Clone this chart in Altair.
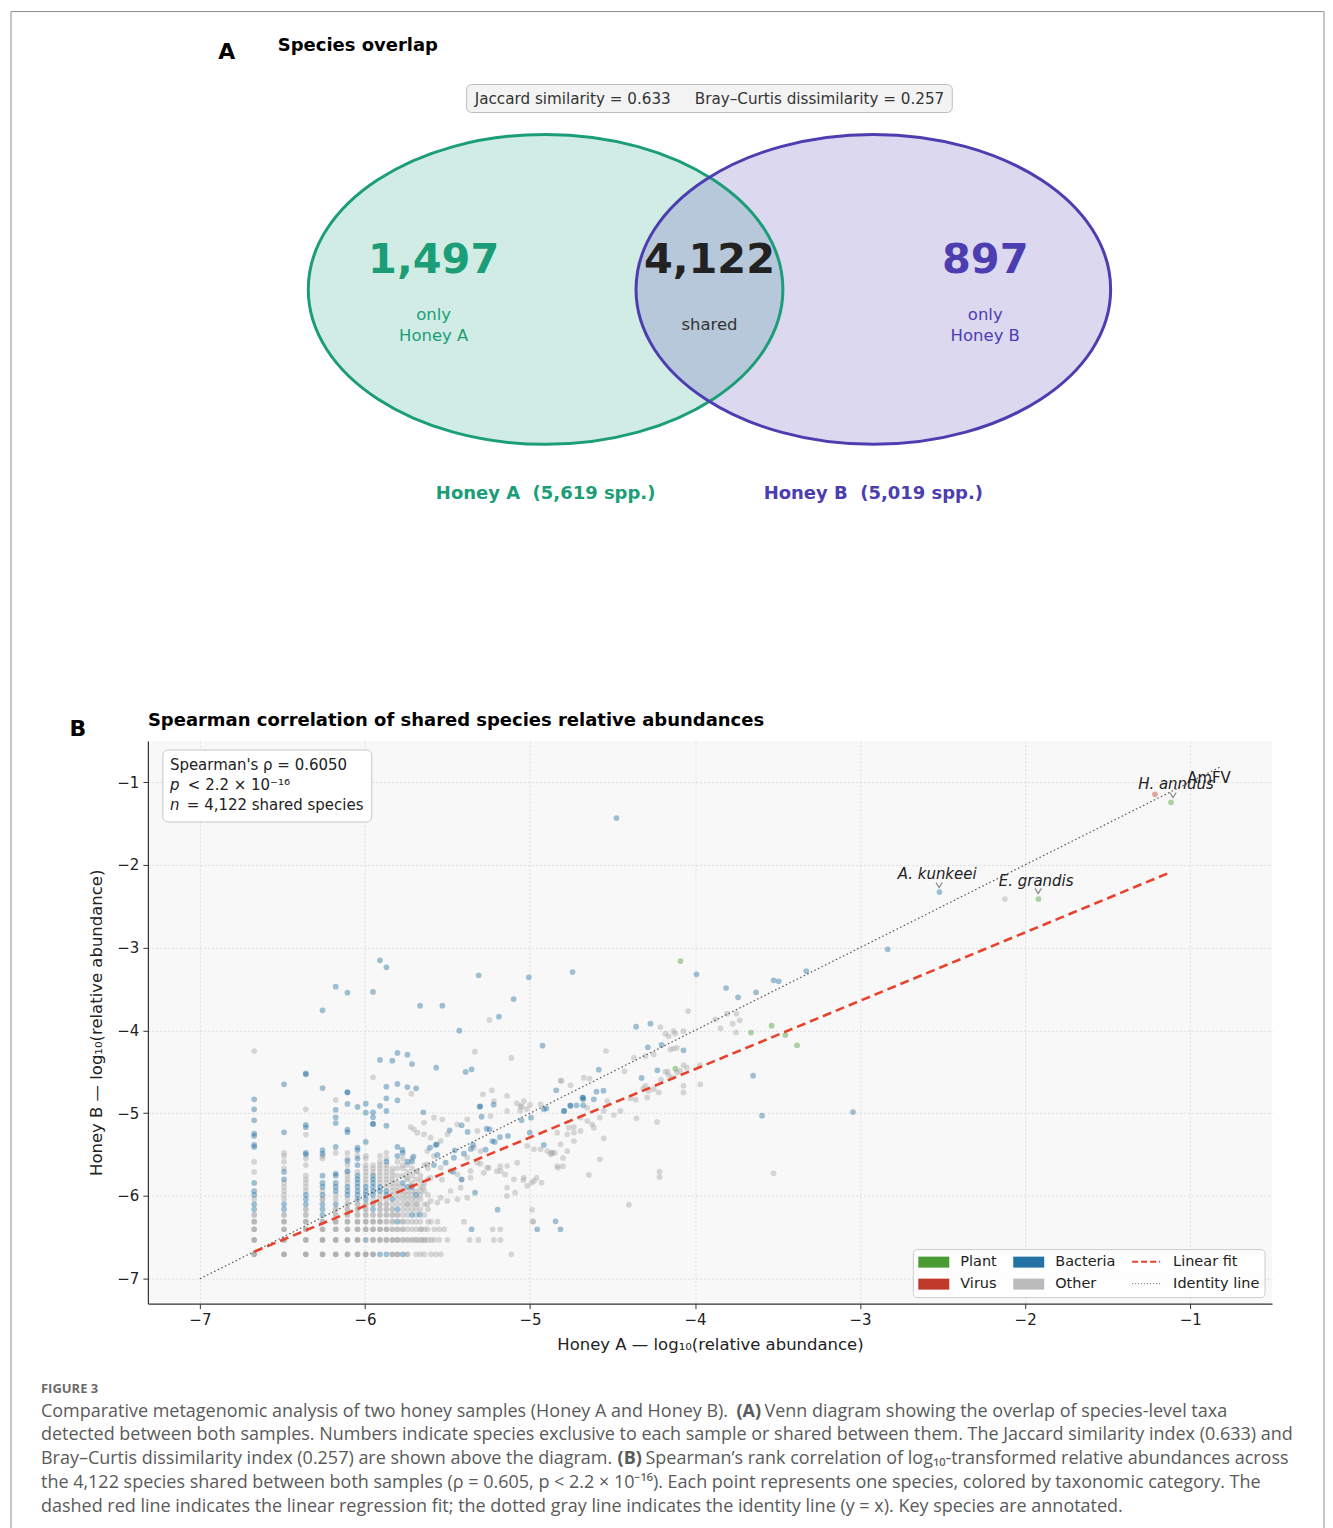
import altair as alt
import pandas as pd

FONT = "DejaVu Sans"
CAP_FONT = "Open Sans"
GREEN = "#1b9e77"
PURPLE = "#4c3db0"
DARK = "#222222"

# ---------------- Panel A values ----------------
SETS = ["Honey A", "Honey B"]
SET_TOTALS = ["5,619", "5,019"]
ONLY_COUNTS = ["1,497", "897"]
SHARED_COUNT = "4,122"
JACCARD = "0.633"
BRAY_CURTIS = "0.257"

# ---------------- Panel B values ----------------
RHO = "0.6050"
N_SHARED = "4,122"
CATEGORIES = ["Other", "Bacteria", "Plant", "Virus"]
POINT_COLORS = ["#a8a8a8", "#2471a3", "#4a9b34", "#c0392b"]
LEGEND_COLORS = ["#4a9b34", "#c0392b", "#2471a3", "#bbbbbb"]
LEGEND_LABELS = ["Plant", "Virus", "Bacteria", "Other"]

# discrete low-abundance lattice (log10 of small read counts)
LAT_X = [-6.671, -6.490, -6.358, -6.257, -6.177, -6.106, -6.045, -5.995, -5.951, -5.909,
         -5.870, -5.834, -5.803, -5.771, -5.743, -5.715, -5.690, -5.664, -5.640, -5.618]
LAT_Y = [-6.704, -6.531, -6.402, -6.310, -6.229, -6.161, -6.100, -6.040, -5.988, -5.940,
         -5.891, -5.843, -5.798, -5.755, -5.710, -5.666, -5.626, -5.586, -5.548, -5.517,
         -5.480, -5.445, -5.408]
# per lattice column: [row index, number of overlapping species]
OTHER_LAT = [
    [[0, 4], [1, 4], [2, 3], [3, 3], [4, 2], [7, 1], [14, 1], [17, 1]],
    [[0, 4], [1, 4], [2, 3], [3, 3], [4, 2], [7, 1], [8, 1], [9, 1], [10, 1], [11, 1], [15, 1], [17, 1], [19, 1], [20, 1]],
    [[0, 4], [1, 4], [2, 3], [3, 3], [4, 2], [5, 2], [9, 1], [10, 1], [11, 1], [12, 1], [13, 1], [16, 1], [18, 1]],
    [[0, 4], [1, 4], [2, 3], [3, 3], [7, 2], [9, 1], [18, 1], [19, 1]],
    [[0, 4], [1, 4], [2, 3], [3, 3], [4, 2], [5, 2], [7, 1], [8, 1], [20, 1]],
    [[0, 4], [1, 4], [2, 3], [3, 3], [4, 2], [5, 2], [6, 2], [7, 1], [11, 1], [12, 1], [13, 1], [14, 1], [16, 1], [18, 1], [20, 1]],
    [[0, 4], [1, 4], [2, 3], [3, 3], [4, 2], [5, 2], [6, 2], [14, 1], [19, 1]],
    [[0, 4], [2, 3], [3, 3], [4, 2], [5, 2], [6, 2], [11, 1], [12, 1], [13, 1], [14, 1], [15, 1], [16, 1], [18, 1], [19, 1]],
    [[0, 4], [1, 3], [2, 3], [3, 3], [4, 2], [6, 2], [7, 1], [14, 1], [15, 1], [16, 1]],
    [[1, 3], [2, 3], [3, 3], [4, 2], [5, 2], [6, 2], [7, 1], [8, 1], [11, 1], [12, 1], [13, 1], [14, 1], [15, 1], [16, 1], [17, 1], [19, 1]],
    [[1, 3], [2, 3], [3, 2], [4, 2], [5, 2], [6, 2], [7, 1], [10, 1], [11, 1], [12, 1], [13, 1], [14, 1], [15, 1], [16, 1], [18, 1], [20, 1]],
    [[0, 3], [1, 3], [2, 2], [3, 2], [4, 2], [5, 2], [6, 1], [8, 1], [9, 1], [10, 1], [11, 1], [12, 1], [13, 1], [14, 1], [15, 1]],
    [[0, 3], [1, 3], [2, 2], [4, 2], [6, 1], [7, 1], [8, 1], [9, 1], [10, 1], [11, 1], [13, 1], [15, 1], [17, 1]],
    [[1, 2], [2, 2], [3, 2], [4, 1], [5, 1], [6, 1], [7, 1], [8, 1], [9, 1], [10, 1], [13, 1], [15, 1], [16, 1], [18, 1]],
    [[0, 2], [1, 2], [2, 1], [3, 1], [4, 1], [5, 1], [6, 1], [7, 1], [8, 1], [9, 1], [12, 1], [14, 1], [16, 1]],
    [[1, 2], [2, 1], [3, 1], [5, 1], [6, 1], [7, 1], [8, 1], [9, 1], [11, 1], [13, 1], [15, 1], [18, 1]],
    [[0, 1], [1, 1], [2, 1], [3, 1], [4, 1], [5, 1], [6, 1], [7, 1], [9, 1], [12, 1], [14, 1]],
    [[0, 1], [1, 1], [2, 1], [3, 1], [5, 1], [7, 1], [8, 1], [10, 1], [13, 1]],
    [[0, 1], [1, 1], [2, 1], [4, 1], [6, 1], [9, 1], [11, 1], [16, 1]],
    [[1, 1], [3, 1], [5, 1], [8, 1], [12, 1], [15, 1]],
]
BACT_LAT = [
    [5, 6, 8, 9, 11, 22], [5, 6, 12, 14], [6, 7, 8, 20], [4, 5, 6, 8, 10, 11, 13, 21],
    [6, 9, 10, 11, 13], [8, 9, 10], [7, 8, 9, 10, 11, 12, 13, 16, 18, 21], [1, 7, 8, 9, 10],
    [5, 8, 9, 10, 11, 12, 13], [0, 9, 10], [0, 8, 9, 17], [7], [3, 5, 19, 22], [0, 11, 20],
    [10, 17], [4, 10, 17], [8], [], [], [],
]

OTHER_PTS = [
    (-6.671, -4.249), (-6.358, -4.953), (-6.358, -5.259), (-6.177, -4.841), (-5.951, -4.566),
    (-5.246, -3.874), (-5.334, -4.257), (-5.113, -4.333), (-5.719, -4.764), (-5.285, -4.772),
    (-5.231, -4.723), (-4.815, -4.607), (-4.754, -4.663), (-4.674, -4.571), (-4.540, -4.249),
    (-4.427, -4.495), (-4.809, -4.611), (-4.639, -4.583), (-4.206, -4.595), (-4.166, -4.499),
    (-4.281, -4.732), (-4.314, -4.700), (-4.359, -4.837), (-4.391, -4.820), (-4.452, -4.973),
    (-4.492, -5.022), (-4.300, -4.310), (-4.250, -4.290), (-4.370, -4.330), (-4.042, -3.766),
    (-3.877, -3.866), (-3.806, -3.798), (-3.749, -3.798), (-3.729, -3.878), (-3.846, -3.975),
    (-3.772, -3.919), (-3.751, -4.027), (-4.210, -3.960), (-4.180, -4.040), (-4.160, -4.070),
    (-4.130, -4.010), (-4.120, -4.040), (-4.070, -4.010), (-4.149, -4.230), (-4.130, -4.220),
    (-4.110, -4.210), (-4.180, -4.500), (-4.160, -4.540), (-4.140, -4.570), (-4.110, -4.510),
    (-4.090, -4.490), (-4.070, -4.420), (-4.050, -4.450), (-3.970, -4.420), (-3.968, -4.651),
    (-4.070, -4.670), (-4.070, -4.750), (-4.300, -4.670), (-4.250, -4.710), (-4.220, -4.750),
    (-4.290, -4.810), (-4.230, -5.106), (-4.355, -5.062), (-4.553, -5.303), (-4.577, -5.557),
    (-4.643, -5.746), (-4.215, -5.707), (-4.215, -5.771), (-3.524, -5.727), (-4.401, -6.105),
    (-4.987, -6.165), (-4.984, -6.306), (-5.140, -6.000), (-5.090, -5.960), (-5.040, -5.810),
    (-4.960, -5.780), (-4.990, -5.840), (-4.930, -5.840), (-4.850, -5.480), (-4.870, -5.480),
    (-4.800, -5.540), (-4.800, -5.640), (-4.830, -5.660), (-5.300, -5.610), (-5.250, -5.660),
    (-5.200, -5.700), (-5.150, -5.740), (-5.280, -5.720), (-5.180, -5.640),
    (-5.690, -6.531), (-5.660, -6.531), (-5.640, -6.531), (-5.600, -6.531), (-5.580, -6.531),
    (-5.550, -6.531), (-5.500, -6.531), (-5.366, -6.531), (-5.313, -6.531), (-5.219, -6.531),
    (-5.178, -6.531), (-5.660, -6.402), (-5.620, -6.402), (-5.580, -6.402), (-5.550, -6.402),
    (-5.520, -6.402), (-5.226, -6.402), (-5.180, -6.402), (-5.600, -6.704), (-5.570, -6.704),
    (-5.540, -6.704), (-5.113, -6.704), (-5.600, -6.310), (-5.560, -6.310), (-5.400, -6.310),
    (-4.980, -6.310),
    (-4.532, -4.853), (-4.553, -4.973), (-4.577, -5.054), (-4.623, -5.134), (-4.613, -5.175),
    (-4.653, -5.094), (-4.694, -5.215), (-4.734, -5.235), (-4.774, -5.255), (-4.764, -5.175),
    (-4.835, -5.235), (-4.815, -5.376), (-4.865, -5.477), (-4.895, -5.457), (-5.080, -4.880),
    (-5.050, -4.920), (-5.020, -4.950), (-5.000, -4.900), (-5.060, -4.970),
    (-5.723, -5.168), (-5.682, -5.235), (-5.642, -5.255), (-5.602, -5.296), (-5.541, -5.336),
    (-5.501, -5.255), (-5.622, -5.457), (-5.582, -5.517), (-5.541, -5.658), (-5.481, -5.698),
    (-5.440, -5.738), (-5.380, -5.537), (-5.360, -5.698), (-5.340, -5.417), (-5.299, -5.457),
    (-5.319, -5.598), (-5.259, -5.658), (-5.178, -5.698), (-5.138, -5.638), (-5.097, -5.799),
    (-5.017, -5.879), (-4.976, -5.819), (-5.077, -5.598), (-5.017, -5.396), (-4.976, -5.437),
    (-4.936, -5.437), (-4.875, -5.497), (-4.835, -5.638), (-4.774, -5.457), (-4.734, -5.336),
    (-5.662, -5.940), (-5.602, -6.060), (-5.541, -6.020), (-5.481, -5.940), (-5.420, -5.900),
    (-5.360, -5.779), (-5.138, -5.900), (-5.037, -5.779), (-4.734, -5.168), (-4.694, -5.054),
    (-4.653, -4.933), (-5.440, -5.134), (-5.380, -5.074), (-5.319, -5.215), (-5.239, -5.034),
    (-5.138, -4.973), (-5.057, -4.913), (-5.037, -4.853), (-4.936, -4.893), (-5.582, -5.054),
    (-5.531, -5.074), (-5.642, -5.114), (-5.703, -5.195), (-5.218, -4.853), (-5.138, -4.792),
    (-5.622, -5.618), (-5.682, -5.698), (-5.602, -5.779), (-5.662, -5.819), (-5.561, -6.080),
    (-5.501, -6.060), (-5.440, -6.040), (-5.380, -6.020), (-5.646, -5.891), (-5.414, -5.803),
    (-5.533, -5.803), (-5.743, -5.779), (-5.723, -5.879), (-5.743, -6.100), (-5.682, -6.100),
    (-5.622, -6.100), (-2.123, -2.413),
]

BACT_PTS = [
    (-6.671, -5.384), (-6.671, -5.275), (-6.671, -5.247), (-6.671, -5.086), (-6.671, -4.953),
    (-6.671, -4.832), (-6.490, -5.231), (-6.490, -4.651), (-6.358, -5.140), (-6.358, -5.170),
    (-6.358, -4.520), (-6.358, -4.530), (-6.358, -5.497), (-6.257, -5.489), (-6.257, -4.696),
    (-6.257, -3.757), (-6.177, -4.960), (-6.177, -5.050), (-6.177, -5.120), (-6.177, -5.408),
    (-6.177, -5.730), (-6.177, -3.472), (-6.106, -4.748), (-6.106, -4.748), (-6.106, -4.889),
    (-6.106, -5.200), (-6.106, -5.230), (-6.106, -5.577), (-6.106, -5.700), (-6.106, -3.545),
    (-6.045, -4.925), (-6.045, -5.416), (-5.995, -4.885), (-5.995, -4.994), (-5.995, -5.348),
    (-5.951, -4.990), (-5.951, -5.050), (-5.951, -5.130), (-5.951, -5.130), (-5.951, -3.536),
    (-5.909, -4.913), (-5.909, -4.357), (-5.909, -3.153), (-5.870, -4.680), (-5.870, -4.820),
    (-5.870, -4.973), (-5.870, -5.151), (-5.870, -3.238), (-5.834, -4.366), (-5.803, -4.273),
    (-5.803, -4.647), (-5.803, -4.844), (-5.743, -4.294), (-5.743, -4.684), (-5.715, -4.406),
    (-5.690, -4.700),
    (-5.666, -3.702), (-5.531, -3.702), (-5.311, -3.335), (-5.007, -3.359), (-4.742, -3.295),
    (-5.099, -3.621), (-5.188, -3.834), (-5.428, -4.003), (-4.924, -4.184), (-5.568, -4.450),
    (-5.390, -4.502), (-5.354, -4.470), (-5.646, -4.989), (-5.301, -4.917), (-5.220, -4.897),
    (-4.841, -4.723), (-4.756, -4.905), (-4.718, -4.905), (-4.678, -4.905), (-4.678, -4.812),
    (-4.795, -4.973), (-4.357, -3.955), (-4.270, -3.919), (-4.286, -4.204), (-4.203, -4.176),
    (-4.070, -4.241), (-3.648, -4.547), (-3.594, -5.030), (-4.583, -4.474), (-4.324, -4.575),
    (-4.228, -4.482), (-4.597, -4.741), (-4.555, -4.728), (-4.613, -4.832), (-4.682, -4.813),
    (-4.677, -4.832), (-4.901, -4.941), (-4.916, -5.384), (-4.916, -4.953), (-5.487, -5.207),
    (-5.414, -5.146), (-5.571, -5.384), (-5.561, -5.505), (-5.511, -5.598), (-5.461, -5.537),
    (-5.414, -5.799), (-5.333, -5.960), (-5.196, -6.165), (-4.956, -6.402), (-4.815, -6.402),
    (-4.845, -6.306), (-5.354, -6.402), (-5.668, -6.226), (-3.991, -3.323), (-3.812, -3.488),
    (-3.739, -3.600), (-3.630, -3.540), (-3.524, -3.395), (-3.493, -3.407), (-3.326, -3.283),
    (-2.833, -3.021), (-3.043, -4.986), (-4.476, -1.435), (-2.519, -2.329), (-5.706, -5.525),
    (-5.606, -5.417), (-5.773, -5.444), (-5.378, -5.227), (-5.345, -5.384), (-5.456, -5.449),
    (-5.305, -4.921), (-5.293, -5.042), (-5.263, -5.187), (-5.245, -5.195), (-5.182, -5.290),
    (-5.134, -5.275), (-5.228, -5.336), (-5.214, -5.348), (-5.358, -5.432), (-5.269, -5.441),
    (-5.400, -5.489), (-5.565, -5.376), (-5.582, -5.626), (-5.467, -5.707), (-4.994, -5.054),
    (-5.051, -5.086), (-5.001, -5.235), (-4.792, -4.973), (-4.754, -4.913),
]

PLANT_PTS = [
    (-4.088, -3.162), (-3.536, -3.943), (-3.661, -4.027), (-3.453, -4.056), (-3.382, -4.180),
    (-4.119, -4.462), (-1.116, -1.245), (-1.919, -2.413),
]
VIRUS_PTS = [(-1.213, -1.148)]

FIT_X = [-6.671, -1.116]
FIT_Y = [-6.673, -2.087]
IDENTITY = [-7.0, -0.82]

ANNOT_LABELS = ["A. kunkeei", "E. grandis", "H. annuus"]
ANNOT_X = [-2.533, -1.933, -1.086]
ANNOT_Y = [-2.111, -2.196, -1.024]
VIRUS_LABEL = ["AmFV"]
VIRUS_LABEL_X = [-0.886]
VIRUS_LABEL_Y = [-0.952]
ARROW_X = [-2.521, -1.921, -1.104]
ARROW_Y = [-2.244, -2.316, -1.157]

CAPTION = [
    "detected between both samples. Numbers indicate species exclusive to each sample or shared between them. The Jaccard similarity index (0.633) and",
    "the 4,122 species shared between both samples (\u03c1 = 0.605, p < 2.2 \u00d7 10\u207b\u00b9\u2076). Each point represents one species, colored by taxonomic category. The",
    "dashed red line indicates the linear regression fit; the dotted gray line indicates the identity line (y = x). Key species are annotated.",
]

# ---------------- build tables ----------------
rows = []
for ci, cells in enumerate(OTHER_LAT):
    for ri, n in cells:
        rows.append(("Other", LAT_X[ci], LAT_Y[ri], n))
for x, y in OTHER_PTS:
    rows.append(("Other", x, y, 1))
for ci, rs in enumerate(BACT_LAT):
    for ri in rs:
        rows.append(("Bacteria", LAT_X[ci], LAT_Y[ri], 1))
for x, y in BACT_PTS:
    rows.append(("Bacteria", x, y, 1))
for x, y in PLANT_PTS:
    rows.append(("Plant", x, y, 1))
for x, y in VIRUS_PTS:
    rows.append(("Virus", x, y, 1))
points = pd.DataFrame(rows, columns=["cat", "x", "y", "n"])

ONE = pd.DataFrame({"k": [0]})
NB = "\u00a0"

# ---------------- Panel A (Venn) ----------------
VW, VH = 1125, 600
VX = alt.Scale(domain=[0, VW], nice=False, zero=False)
VY = alt.Scale(domain=[0, VH], nice=False, zero=False, reverse=True)
ELLIPSE = "M -1 0 A 1 0.653 0 1 0 1 0 A 1 0.653 0 1 0 -1 0 Z"
ELL_SIZE = 475 ** 2

venn_df = pd.DataFrame({"set": SETS, "cx": [398, 726], "cy": [268, 268],
                        "color": [GREEN, PURPLE]})


def vtext(s, x, y, size, color, weight="normal", align="center", font=FONT):
    d = pd.DataFrame({"t": [s], "x": [x], "y": [y]})
    return alt.Chart(d).mark_text(font=font, fontSize=size, fontWeight=weight, color=color,
                                  align=align, baseline="middle").encode(
        x=alt.X("x:Q", scale=VX, axis=None), y=alt.Y("y:Q", scale=VY, axis=None), text="t:N")


venn_enc = dict(x=alt.X("cx:Q", scale=VX, axis=None), y=alt.Y("cy:Q", scale=VY, axis=None))
fills = alt.Chart(venn_df).mark_point(shape=ELLIPSE, size=ELL_SIZE, filled=True, opacity=1,
                                      fillOpacity=0.2, strokeWidth=0).encode(
    fill=alt.Fill("color:N", scale=None), **venn_enc)
strokes = alt.Chart(venn_df).mark_point(shape=ELLIPSE, size=ELL_SIZE, filled=False, opacity=1,
                                        strokeWidth=3).encode(
    stroke=alt.Stroke("color:N", scale=None), **venn_enc)

# outer figure frame (kept within the 1317 px wide page body)
frame = alt.Chart(ONE).mark_rect(fillOpacity=0, stroke="#8e8e8e", strokeWidth=1).encode(
    x=alt.value(-137), x2=alt.value(1177), y=alt.value(-10), y2=alt.value(1530))

stat_box = alt.Chart(pd.DataFrame({"x": [319], "x2": [805], "y": [63], "y2": [91]})).mark_rect(
    fill="#f3f3f3", stroke="#bdbdbd", strokeWidth=1, cornerRadius=5).encode(
    x=alt.X("x:Q", scale=VX, axis=None), x2="x2:Q",
    y=alt.Y("y:Q", scale=VY, axis=None), y2="y2:Q")

venn = alt.layer(
    frame, fills, strokes, stat_box,
    vtext("A", 79, 30, 22, "#000", "bold"),
    vtext("Species overlap", 130, 24, 18, "#000", "bold", align="left"),
    vtext(f"Jaccard similarity = {JACCARD}{NB*5}Bray\u2013Curtis dissimilarity = {BRAY_CURTIS}",
          562, 77, 15.2, "#333"),
    vtext(ONLY_COUNTS[0], 286, 240, 41.5, GREEN, "bold"),
    vtext("only", 286, 294, 16.5, GREEN),
    vtext(SETS[0], 286, 315, 16.5, GREEN),
    vtext(SHARED_COUNT, 562, 240, 41.5, DARK, "bold"),
    vtext("shared", 562, 304, 16.5, "#333"),
    vtext(ONLY_COUNTS[1], 838, 240, 41.5, PURPLE, "bold"),
    vtext("only", 838, 294, 16.5, PURPLE),
    vtext(SETS[1], 838, 315, 16.5, PURPLE),
    vtext(f"{SETS[0]}{NB*2}({SET_TOTALS[0]} spp.)", 398, 473, 18, GREEN, "bold"),
    vtext(f"{SETS[1]}{NB*2}({SET_TOTALS[1]} spp.)", 726, 473, 18, PURPLE, "bold"),
).properties(width=VW, height=VH, view=alt.ViewBackground(strokeWidth=0, fill="white"))

# ---------------- Panel B (scatter) ----------------
SW, SH = 1125, 563
SX = alt.Scale(domain=[-7.315, -0.504], nice=False, zero=False)
SY = alt.Scale(domain=[-7.30, -0.505], nice=False, zero=False)
AX_COMMON = dict(values=[-7, -6, -5, -4, -3, -2, -1], format="d", grid=True, gridDash=[2, 2],
                 gridColor="#dcdcdc", domainColor="#333", domainWidth=1.2, tickColor="#333",
                 tickSize=5, labelFont=FONT, titleFont=FONT, labelFontSize=15,
                 titleFontSize=16.5, titleFontWeight="normal", labelColor=DARK,
                 titleColor=DARK, labelPadding=4)
AXX = alt.Axis(title="Honey A \u2014 log\u2081\u2080(relative abundance)", titlePadding=9,
               **AX_COMMON)
AXY = alt.Axis(title="Honey B \u2014 log\u2081\u2080(relative abundance)", titlePadding=12,
               **AX_COMMON)


def xy(xf="x", yf="y"):
    return dict(x=alt.X(f"{xf}:Q", scale=SX, axis=AXX), y=alt.Y(f"{yf}:Q", scale=SY, axis=AXY))


scatter = alt.Chart(points).transform_calculate(op="1 - pow(0.57, datum.n)").mark_circle(
    size=33, strokeWidth=0).encode(
    color=alt.Color("cat:N", scale=alt.Scale(domain=CATEGORIES, range=POINT_COLORS), legend=None),
    opacity=alt.Opacity("op:Q", scale=None), **xy())

identity = alt.Chart(pd.DataFrame({"x": IDENTITY, "y": IDENTITY})).mark_line(
    color="#555", strokeWidth=1.2, strokeDash=[1.5, 2.5]).encode(**xy())
fit = alt.Chart(pd.DataFrame({"x": FIT_X, "y": FIT_Y})).mark_line(
    color="#e8412c", strokeWidth=2.6, strokeDash=[9, 5]).encode(**xy())

annots = alt.Chart(pd.DataFrame({"t": ANNOT_LABELS, "x": ANNOT_X, "y": ANNOT_Y})).mark_text(
    font=FONT, fontSize=15, fontStyle="italic", color=DARK, baseline="middle").encode(
    text="t:N", **xy())
vlabel = alt.Chart(pd.DataFrame({"t": VIRUS_LABEL, "x": VIRUS_LABEL_X, "y": VIRUS_LABEL_Y})).mark_text(
    font=FONT, fontSize=15, color=DARK, baseline="middle").encode(text="t:N", **xy())
arrows = alt.Chart(pd.DataFrame({"x": ARROW_X, "y": ARROW_Y})).mark_point(
    shape="M -1 -0.8 L 0 0.8 L 1 -0.8", size=40, filled=False, color="#888", strokeWidth=1.2,
    opacity=1).encode(**xy())


def ptext(s, px, py, size, color=DARK, weight="normal", style="normal", align="left", font=FONT):
    return alt.Chart(ONE).mark_text(font=font, fontSize=size, fontWeight=weight, fontStyle=style,
                                    color=color, align=align, baseline="middle").encode(
        x=alt.value(px), y=alt.value(py), text=alt.value(s))


def prect(x1, x2, y1, y2, **kw):
    return alt.Chart(ONE).mark_rect(**kw).encode(
        x=alt.value(x1), x2=alt.value(x2), y=alt.value(y1), y2=alt.value(y2))


def prule(x1, x2, y, **kw):
    return alt.Chart(ONE).mark_rule(**kw).encode(x=alt.value(x1), x2=alt.value(x2), y=alt.value(y))


stats_layers = [
    prect(15, 224, 9, 81, fill="white", stroke="#c8c8c8", strokeWidth=1, cornerRadius=5),
    ptext(f"Spearman's \u03c1 = {RHO}", 22, 24, 15),
    ptext("p", 22, 44, 15, style="italic"),
    ptext("< 2.2 \u00d7 10\u207b\u00b9\u2076", 40, 44, 15),
    ptext("n", 22, 64, 15, style="italic"),
    ptext(f"= {N_SHARED} shared species", 39, 64, 15),
]

leg_layers = [prect(766, 1118, 509, 557, fill="white", fillOpacity=0.85, stroke="#cccccc",
                    strokeWidth=1, cornerRadius=4)]
for i, (lab, col) in enumerate(zip(LEGEND_LABELS, LEGEND_COLORS)):
    cx = 771 + 95 * (i // 2)
    cy = 521 + 22 * (i % 2)
    leg_layers.append(prect(cx, cx + 31, cy - 5, cy + 6, fill=col))
    leg_layers.append(ptext(lab, cx + 42, cy, 14.5))
leg_layers += [
    prule(985, 1013, 521, color="#e8412c", strokeWidth=2, strokeDash=[6, 3]),
    ptext("Linear fit", 1026, 521, 14.5),
    prule(985, 1013, 543, color="#666", strokeWidth=1, strokeDash=[1, 2]),
    ptext("Identity line", 1026, 543, 14.5),
]

title_layers = [
    ptext("B", -70, -12, 22, "#000", "bold", align="center"),
    ptext("Spearman correlation of shared species relative abundances", 0, -20, 18, "#000", "bold"),
]

CAPC = "#5a5a5a"
CS = 18
cap_layers = [
    ptext("FIGURE 3", -107, 648, 13, "#6b6b6b", "bold", font=CAP_FONT),
    ptext("Comparative metagenomic analysis of two honey samples (Honey A and Honey B).",
          -107, 671, CS, CAPC, font=CAP_FONT),
    ptext("(A)", 589, 671, CS, CAPC, "bold", font=CAP_FONT),
    ptext("Venn diagram showing the overlap of species-level taxa", 617, 671, CS, CAPC, font=CAP_FONT),
    ptext(CAPTION[0], -107, 695, CS, CAPC, font=CAP_FONT),
    ptext("Bray\u2013Curtis dissimilarity index (0.257) are shown above the diagram.",
          -107, 719, CS, CAPC, font=CAP_FONT),
    ptext("(B)", 470, 719, CS, CAPC, "bold", font=CAP_FONT),
    ptext("Spearman\u2019s rank correlation of log\u2081\u2080-transformed relative abundances across",
          498, 719, CS, CAPC, font=CAP_FONT),
    ptext(CAPTION[1], -107, 743, CS, CAPC, font=CAP_FONT),
    ptext(CAPTION[2], -107, 767, CS, CAPC, font=CAP_FONT),
]

panel_b = alt.layer(
    scatter, identity, fit, arrows, annots, vlabel,
    *stats_layers, *leg_layers, *title_layers, *cap_layers,
).properties(width=SW, height=SH, view=alt.ViewBackground(fill="#f8f8f8", strokeWidth=0))

chart = alt.vconcat(venn, panel_b, spacing=120, bounds="flush").properties(
    padding={"left": 2, "top": 2, "right": 0, "bottom": 0}, background="white"
).configure_view(strokeWidth=0)

chart.save("out.html", embed_options={"renderer": "svg", "actions": False})
